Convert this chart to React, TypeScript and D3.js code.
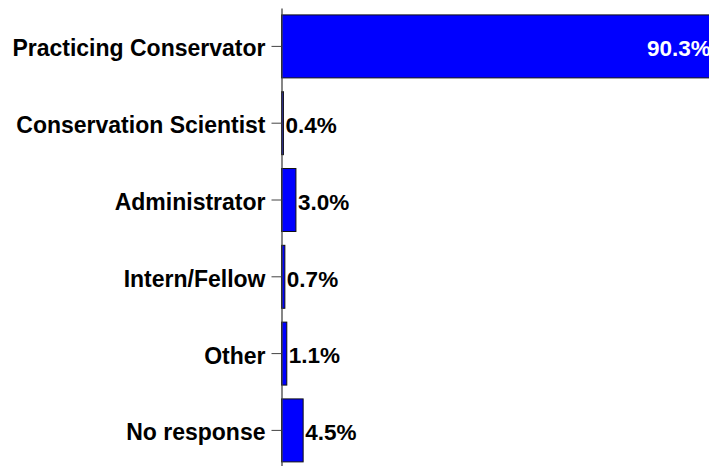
import React, { useEffect, useRef } from "react";
import * as d3 from "d3";

const categories = [
  "Practicing Conservator",
  "Conservation Scientist",
  "Administrator",
  "Intern/Fellow",
  "Other",
  "No response",
];
const values = [90.3, 0.4, 3.0, 0.7, 1.1, 4.5];
const valueLabels = ["90.3%", "0.4%", "3.0%", "0.7%", "1.1%", "4.5%"];

const W = 709;
const H = 466;
const AXIS_X = 281.5;
const FONT = "'Liberation Sans', Arial, Helvetica, sans-serif";
const FS = 23;
const VFS = 22.5;

export default function App() {
  const ref = useRef<SVGSVGElement>(null);

  useEffect(() => {
    const svg = d3.select(ref.current);
    svg.selectAll("*").remove();

    const x = d3.scaleLinear().domain([0, 100]).range([AXIS_X, AXIS_X + 481]);
    const y = d3
      .scaleBand<string>()
      .domain(categories)
      .range([8, 8 + 6 * 76.8])
      .paddingInner(0.18)
      .paddingOuter(0.09);

    const data = categories.map((c, i) => ({ c, v: values[i], l: valueLabels[i] }));

    // bars
    svg
      .append("g")
      .selectAll("rect")
      .data(data)
      .join("rect")
      .attr("x", x(0))
      .attr("y", (d) => y(d.c)!)
      .attr("width", (d) => x(d.v) - x(0))
      .attr("height", y.bandwidth())
      .attr("fill", "#0000ff")
      .attr("stroke", "#111")
      .attr("stroke-width", 1);

    // axis
    const axis = d3.axisLeft(y).tickSize(10).tickPadding(6).tickSizeOuter(0);
    const g = svg.append("g").attr("transform", `translate(${AXIS_X},0)`).call(axis);
    g.select(".domain").attr("stroke", "#444").attr("stroke-width", 1.3);
    g.selectAll(".tick line").attr("stroke", "#444").attr("stroke-width", 1);
    g.selectAll(".tick text")
      .attr("font-family", FONT)
      .attr("font-size", FS)
      .attr("font-weight", "bold")
      .attr("fill", "#000")
      .attr("dy", null)
      .attr("y", 10);

    // value labels
    svg
      .append("g")
      .selectAll("text")
      .data(data)
      .join("text")
      .attr("font-family", FONT)
      .attr("font-size", VFS)
      .attr("font-weight", "bold")
      .attr("x", (d) => (d.v > 50 ? x(d.v) - 5 : x(d.v) + 2))
      .attr("text-anchor", (d) => (d.v > 50 ? "end" : "start"))
      .attr("y", (d) => y(d.c)! + y.bandwidth() / 2 + 9.8)
      .attr("fill", (d) => (d.v > 50 ? "#fff" : "#000"))
      .text((d) => d.l);
  }, []);

  return (
    <div style={{ position: "fixed", left: 0, top: 0, width: W, height: H, background: "#fff" }}>
      <svg ref={ref} width={W} height={H} style={{ display: "block", overflow: "hidden" }} />
    </div>
  );
}
